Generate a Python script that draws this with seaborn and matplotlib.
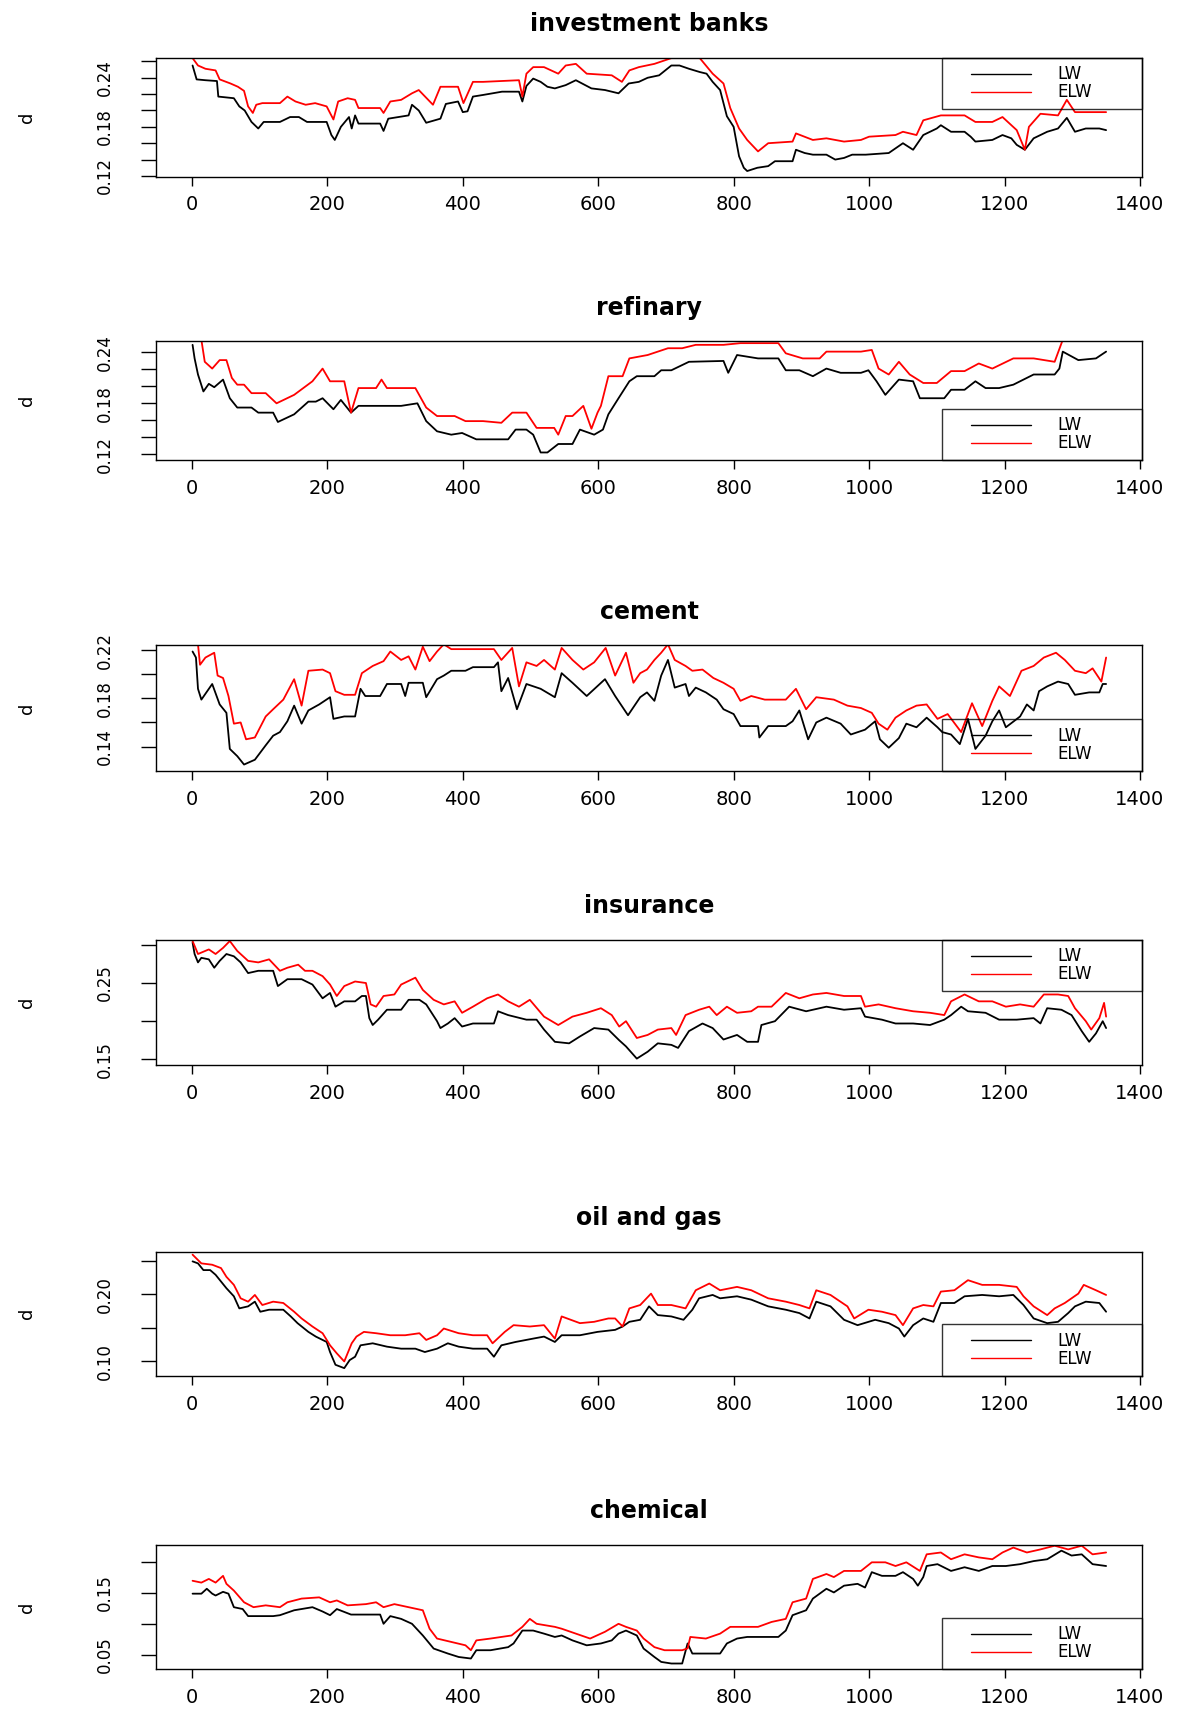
import matplotlib
matplotlib.use("Agg")
import matplotlib.pyplot as plt
import seaborn as sns
import pandas as pd
from matplotlib.lines import Line2D
from matplotlib.legend_handler import HandlerLine2D

# ---------------- data (index t, value d) ----------------
titles = ["investment banks", "refinary", "cement", "insurance", "oil and gas", "chemical"]
series_names = ["LW", "ELW"]
x_ticks = [0, 200, 400, 600, 800, 1000, 1200, 1400]

ib_lw = [(1,0.255),(7,0.238),(20,0.237),(37,0.236),(39,0.217),(62,0.215),(70,0.205),(78,0.200),(88,0.186),(98,0.178),
         (106,0.186),(130,0.186),(145,0.192),(158,0.192),(170,0.186),(199,0.186),(206,0.170),(211,0.164),(220,0.180),(232,0.192),
         (236,0.178),(241,0.194),(246,0.184),(278,0.184),(283,0.175),(290,0.190),(320,0.194),(325,0.207),(335,0.200),(346,0.185),
         (367,0.190),(375,0.208),(393,0.211),(400,0.198),(407,0.199),(415,0.217),(430,0.219),(458,0.223),(483,0.223),(488,0.211),
         (494,0.230),(504,0.239),(515,0.235),(525,0.229),(536,0.227),(552,0.231),(567,0.237),(590,0.227),(610,0.225),(630,0.221),
         (645,0.233),(660,0.235),(673,0.240),(690,0.243),(708,0.255),(720,0.255),(734,0.251),(750,0.247),(760,0.245),(769,0.235),
         (780,0.225),(790,0.193),(800,0.180),(808,0.144),(815,0.130),(820,0.126),(835,0.130),(851,0.132),(861,0.138),(887,0.138),
         (892,0.152),(905,0.148),(917,0.146),(937,0.146),(950,0.140),(963,0.142),(975,0.146),(995,0.146),(1029,0.148),(1050,0.160),
         (1065,0.152),(1080,0.170),(1100,0.178),(1106,0.182),(1121,0.174),(1141,0.174),(1150,0.168),(1157,0.162),(1182,0.164),(1197,0.170),
         (1210,0.166),(1218,0.158),(1230,0.152),(1243,0.166),(1263,0.174),(1279,0.178),(1292,0.191),(1304,0.174),(1320,0.178),(1340,0.178),
         (1350,0.176)]
ib_elw = [(1,0.264),(9,0.255),(20,0.251),(35,0.249),(41,0.238),(57,0.233),(68,0.229),(77,0.224),(83,0.205),(90,0.197),
          (95,0.207),(104,0.209),(130,0.209),(141,0.217),(153,0.211),(168,0.207),(182,0.209),(199,0.205),(209,0.189),(216,0.211),
          (230,0.215),(241,0.213),(246,0.203),(278,0.203),(283,0.197),(293,0.211),(309,0.213),(325,0.221),(335,0.225),(356,0.207),
          (367,0.229),(393,0.229),(401,0.209),(415,0.235),(430,0.235),(483,0.237),(488,0.217),(494,0.245),(504,0.253),(520,0.253),
          (541,0.245),(552,0.255),(567,0.257),(583,0.245),(620,0.243),(635,0.235),(646,0.249),(660,0.253),(683,0.257),(708,0.264),
          (750,0.264),(769,0.245),(785,0.233),(795,0.203),(808,0.178),(820,0.164),(836,0.150),(851,0.160),(887,0.162),(892,0.172),
          (917,0.164),(937,0.166),(963,0.162),(988,0.164),(1000,0.168),(1039,0.170),(1050,0.174),(1070,0.170),(1080,0.188),(1106,0.194),
          (1141,0.194),(1157,0.186),(1182,0.186),(1197,0.192),(1218,0.176),(1230,0.152),(1236,0.180),(1253,0.196),(1279,0.194),(1292,0.213),
          (1304,0.198),(1350,0.198)]

ref_lw = [(1,0.249),(4,0.233),(9,0.214),(17,0.194),(25,0.203),(33,0.199),(46,0.208),(56,0.186),(67,0.175),(88,0.175),
          (98,0.169),(120,0.169),(127,0.158),(151,0.167),(172,0.182),(183,0.182),(193,0.186),(209,0.173),(220,0.184),(235,0.169),
          (246,0.177),(309,0.177),(333,0.180),(346,0.159),(362,0.147),(383,0.143),(399,0.145),(420,0.1375),(467,0.1375),(478,0.149),
          (494,0.149),(504,0.143),(515,0.122),(525,0.122),(541,0.132),(562,0.132),(573,0.149),(594,0.143),(607,0.149),(615,0.167),
          (630,0.186),(646,0.206),(657,0.212),(683,0.212),(693,0.219),(708,0.219),(734,0.229),(785,0.230),(792,0.216),(805,0.237),
          (836,0.233),(866,0.233),(877,0.219),(897,0.219),(917,0.212),(937,0.221),(958,0.216),(988,0.216),(999,0.219),(1011,0.206),
          (1024,0.190),(1044,0.208),(1065,0.206),(1075,0.186),(1111,0.186),(1121,0.196),(1141,0.196),(1157,0.206),(1172,0.198),(1192,0.198),
          (1213,0.202),(1223,0.206),(1243,0.214),(1274,0.214),(1281,0.221),(1286,0.241),(1309,0.231),(1335,0.233),(1350,0.241)]
ref_elw = [(1,0.255),(14,0.255),(19,0.229),(30,0.221),(41,0.231),(51,0.231),(59,0.210),(67,0.202),(77,0.202),(88,0.192),
           (109,0.192),(125,0.180),(151,0.190),(178,0.206),(193,0.221),(204,0.206),(225,0.206),(235,0.169),(246,0.198),(272,0.198),
           (280,0.208),(288,0.198),(330,0.198),(346,0.175),(362,0.165),(388,0.165),(404,0.159),(430,0.159),(457,0.157),(473,0.169),
           (494,0.169),(509,0.151),(535,0.151),(541,0.143),(552,0.165),(562,0.165),(578,0.177),(590,0.150),(599,0.169),(604,0.177),
           (615,0.212),(636,0.212),(646,0.233),(673,0.237),(703,0.245),(724,0.245),(744,0.249),(785,0.249),(810,0.251),(866,0.251),
           (877,0.239),(902,0.233),(927,0.233),(937,0.241),(988,0.241),(1004,0.243),(1014,0.221),(1029,0.214),(1044,0.229),(1060,0.214),
           (1080,0.204),(1100,0.204),(1121,0.218),(1141,0.218),(1162,0.227),(1182,0.221),(1213,0.233),(1243,0.233),(1274,0.229),(1286,0.255),
           (1350,0.255)]

cem_lw = [(1,0.219),(6,0.214),(9,0.188),(14,0.179),(30,0.192),(41,0.175),(51,0.168),(56,0.138),(67,0.132),(77,0.125),
          (93,0.129),(109,0.141),(120,0.149),(130,0.152),(141,0.161),(151,0.174),(162,0.159),(172,0.170),(188,0.175),(204,0.181),
          (209,0.163),(225,0.165),(241,0.165),(249,0.188),(256,0.182),(278,0.182),(288,0.192),(309,0.192),(315,0.182),(320,0.193),
          (341,0.193),(346,0.181),(362,0.196),(372,0.199),(383,0.203),(404,0.203),(415,0.206),(446,0.206),(452,0.210),(457,0.186),
          (467,0.197),(480,0.171),(494,0.192),(515,0.188),(536,0.181),(546,0.201),(562,0.193),(583,0.182),(610,0.196),(625,0.182),
          (644,0.166),(662,0.181),(672,0.185),(683,0.178),(693,0.199),(703,0.212),(713,0.189),(729,0.192),(734,0.182),(744,0.189),
          (759,0.185),(775,0.179),(785,0.171),(800,0.167),(810,0.157),(836,0.157),(838,0.1475),(851,0.157),(877,0.157),(887,0.161),
          (897,0.170),(910,0.146),(922,0.160),(937,0.164),(958,0.159),(973,0.150),(994,0.154),(1009,0.161),(1016,0.146),(1029,0.139),
          (1044,0.147),(1055,0.159),(1070,0.156),(1085,0.164),(1101,0.156),(1108,0.152),(1121,0.150),(1134,0.142),(1146,0.163),(1157,0.138),
          (1172,0.149),(1182,0.161),(1192,0.170),(1202,0.156),(1223,0.165),(1233,0.175),(1243,0.170),(1251,0.186),(1263,0.190),(1279,0.194),
          (1294,0.192),(1304,0.183),(1325,0.185),(1340,0.185),(1345,0.192),(1350,0.192)]
cem_elw = [(1,0.225),(9,0.225),(12,0.208),(20,0.214),(33,0.218),(38,0.199),(46,0.197),(54,0.182),(62,0.159),(72,0.160),
           (80,0.146),(93,0.1475),(109,0.165),(120,0.171),(135,0.179),(151,0.196),(162,0.174),(172,0.203),(193,0.204),(204,0.201),
           (212,0.186),(225,0.183),(241,0.183),(251,0.201),(267,0.207),(283,0.211),(293,0.219),(309,0.212),(320,0.215),(330,0.204),
           (341,0.223),(351,0.211),(362,0.219),(372,0.225),(383,0.221),(446,0.221),(457,0.212),(473,0.222),(483,0.190),(494,0.210),
           (509,0.207),(520,0.212),(536,0.204),(546,0.222),(562,0.212),(578,0.204),(594,0.210),(611,0.222),(625,0.199),(641,0.218),
           (652,0.193),(662,0.201),(672,0.204),(683,0.212),(693,0.218),(703,0.225),(713,0.212),(729,0.207),(739,0.203),(754,0.204),
           (770,0.197),(785,0.193),(800,0.188),(810,0.178),(826,0.182),(846,0.179),(877,0.179),(892,0.188),(907,0.171),(922,0.181),
           (948,0.179),(968,0.174),(988,0.172),(1004,0.168),(1014,0.159),(1027,0.154),(1039,0.164),(1055,0.170),(1070,0.174),(1085,0.175),
           (1101,0.163),(1116,0.167),(1136,0.152),(1152,0.176),(1167,0.157),(1182,0.178),(1192,0.190),(1208,0.182),(1225,0.203),(1243,0.207),
           (1258,0.214),(1276,0.218),(1289,0.212),(1304,0.203),(1320,0.201),(1330,0.205),(1343,0.194),(1350,0.214)]

ins_lw = [(1,0.303),(4,0.288),(9,0.277),(14,0.283),(25,0.281),(33,0.270),(41,0.279),(51,0.288),(62,0.285),(72,0.277),
          (83,0.263),(98,0.266),(120,0.266),(127,0.246),(141,0.255),(162,0.255),(178,0.248),(193,0.230),(204,0.237),(212,0.219),
          (225,0.226),(241,0.226),(251,0.233),(257,0.233),(262,0.204),(267,0.195),(275,0.202),(288,0.215),(309,0.215),(320,0.228),
          (336,0.228),(346,0.222),(362,0.200),(367,0.191),(378,0.197),(388,0.204),(399,0.193),(415,0.197),(446,0.197),(452,0.213),
          (467,0.208),(494,0.202),(509,0.202),(520,0.189),(536,0.173),(557,0.171),(573,0.180),(594,0.191),(615,0.189),(631,0.175),
          (641,0.167),(657,0.151),(673,0.160),(688,0.171),(708,0.169),(718,0.165),(734,0.187),(754,0.197),(769,0.191),(785,0.176),
          (805,0.182),(820,0.173),(836,0.173),(841,0.195),(861,0.200),(882,0.219),(907,0.213),(937,0.219),(963,0.215),(988,0.217),
          (994,0.206),(1019,0.202),(1039,0.197),(1065,0.197),(1090,0.195),(1111,0.202),(1121,0.208),(1136,0.219),(1146,0.213),(1172,0.211),
          (1192,0.202),(1218,0.202),(1243,0.204),(1253,0.197),(1263,0.217),(1284,0.215),(1299,0.208),(1314,0.187),(1325,0.173),(1335,0.184),
          (1345,0.200),(1350,0.191)]
ins_elw = [(1,0.305),(9,0.288),(25,0.294),(35,0.288),(46,0.296),(56,0.305),(67,0.292),(83,0.279),(98,0.277),(114,0.281),
           (130,0.266),(141,0.270),(157,0.274),(167,0.266),(178,0.266),(193,0.259),(204,0.248),(214,0.233),(225,0.246),(241,0.252),
           (257,0.250),(264,0.222),(272,0.219),(283,0.233),(299,0.235),(309,0.248),(330,0.257),(341,0.241),(357,0.228),(372,0.222),
           (388,0.226),(399,0.211),(415,0.219),(436,0.230),(452,0.235),(467,0.226),(483,0.219),(499,0.228),(520,0.206),(541,0.195),
           (562,0.206),(583,0.211),(604,0.217),(620,0.208),(631,0.193),(641,0.200),(657,0.178),(673,0.182),(688,0.189),(708,0.191),
           (715,0.182),(729,0.208),(749,0.215),(764,0.219),(775,0.208),(790,0.219),(805,0.211),(826,0.213),(836,0.219),(856,0.219),
           (877,0.237),(897,0.230),(917,0.235),(937,0.237),(963,0.233),(988,0.233),(994,0.219),(1014,0.222),(1039,0.217),(1065,0.213),
           (1090,0.211),(1111,0.208),(1121,0.226),(1141,0.235),(1162,0.226),(1182,0.226),(1202,0.219),(1223,0.222),(1243,0.219),(1258,0.235),
           (1279,0.235),(1294,0.233),(1304,0.217),(1320,0.200),(1328,0.189),(1340,0.204),(1347,0.224),(1350,0.206)]

oil_lw = [(1,0.249),(9,0.246),(17,0.236),(27,0.236),(35,0.229),(43,0.219),(51,0.209),(62,0.197),(70,0.179),(83,0.182),
          (93,0.189),(101,0.174),(114,0.177),(135,0.177),(146,0.167),(156,0.157),(172,0.144),(183,0.137),(199,0.129),(204,0.114),
          (212,0.095),(225,0.090),(233,0.102),(241,0.107),(249,0.124),(267,0.127),(288,0.122),(309,0.119),(330,0.119),(344,0.114),
          (362,0.119),(378,0.127),(394,0.122),(415,0.119),(436,0.119),(446,0.107),(457,0.124),(478,0.129),(504,0.134),(520,0.137),
          (536,0.129),(546,0.139),(573,0.139),(599,0.144),(625,0.147),(636,0.152),(646,0.159),(662,0.162),(675,0.182),(688,0.169),
          (708,0.167),(726,0.162),(739,0.177),(749,0.194),(769,0.199),(780,0.194),(805,0.197),(826,0.192),(851,0.182),(877,0.177),
          (897,0.172),(912,0.164),(922,0.189),(943,0.182),(963,0.162),(983,0.154),(1009,0.162),(1029,0.157),(1044,0.149),(1052,0.137),
          (1065,0.154),(1080,0.164),(1095,0.159),(1106,0.187),(1126,0.187),(1141,0.197),(1167,0.199),(1192,0.197),(1213,0.199),(1228,0.184),
          (1243,0.164),(1263,0.157),(1279,0.159),(1294,0.172),(1304,0.182),(1320,0.189),(1340,0.187),(1350,0.174)]
oil_elw = [(1,0.259),(14,0.246),(30,0.244),(43,0.239),(51,0.226),(62,0.214),(72,0.194),(83,0.189),(93,0.199),(104,0.184),
           (120,0.189),(135,0.187),(151,0.174),(162,0.164),(178,0.152),(193,0.142),(204,0.124),(214,0.112),(225,0.100),(236,0.127),
           (243,0.137),(254,0.144),(272,0.142),(293,0.139),(315,0.139),(336,0.142),(346,0.132),(362,0.139),(372,0.149),(394,0.142),
           (415,0.139),(436,0.139),(444,0.127),(462,0.144),(475,0.154),(499,0.152),(520,0.154),(536,0.134),(546,0.167),(573,0.157),
           (594,0.159),(615,0.164),(625,0.164),(636,0.152),(646,0.179),(662,0.184),(678,0.201),(688,0.184),(708,0.184),(729,0.179),
           (744,0.206),(764,0.216),(780,0.206),(805,0.211),(826,0.206),(851,0.194),(877,0.189),(897,0.184),(912,0.179),(922,0.206),
           (943,0.199),(968,0.182),(978,0.164),(999,0.177),(1019,0.174),(1039,0.169),(1050,0.154),(1065,0.179),(1080,0.184),(1095,0.182),
           (1106,0.204),(1126,0.206),(1146,0.221),(1167,0.214),(1192,0.214),(1218,0.211),(1228,0.197),(1243,0.182),(1263,0.169),(1274,0.179),
           (1289,0.187),(1309,0.201),(1317,0.214),(1335,0.206),(1350,0.199)]

chem_lw = [(1,0.149),(14,0.149),(22,0.157),(30,0.149),(35,0.146),(46,0.152),(54,0.149),(62,0.127),(75,0.124),(83,0.1125),
           (120,0.1125),(130,0.114),(151,0.122),(178,0.127),(193,0.120),(204,0.114),(214,0.124),(235,0.115),(278,0.115),(283,0.100),
           (293,0.1125),(309,0.108),(325,0.100),(341,0.081),(357,0.0597),(378,0.0516),(394,0.046),(412,0.0435),(420,0.057),(441,0.057),
           (467,0.062),(475,0.068),(488,0.089),(504,0.089),(520,0.084),(536,0.0786),(546,0.081),(562,0.073),(583,0.065),(604,0.068),
           (620,0.073),(630,0.084),(641,0.089),(657,0.081),(667,0.0597),(683,0.046),(693,0.038),(708,0.0354),(724,0.0354),(732,0.068),
           (739,0.0516),(780,0.0516),(790,0.068),(805,0.076),(820,0.0786),(866,0.0786),(877,0.089),(887,0.114),(907,0.122),(917,0.141),
           (937,0.157),(948,0.151),(963,0.162),(983,0.165),(994,0.159),(1004,0.184),(1019,0.178),(1039,0.178),(1050,0.184),(1065,0.173),
           (1072,0.162),(1080,0.176),(1085,0.194),(1101,0.197),(1121,0.186),(1141,0.192),(1162,0.186),(1182,0.194),(1202,0.194),(1223,0.197),
           (1243,0.202),(1263,0.205),(1284,0.219),(1299,0.211),(1314,0.213),(1330,0.197),(1350,0.194)]
chem_elw = [(1,0.170),(14,0.167),(25,0.173),(35,0.167),(46,0.178),(51,0.165),(62,0.154),(77,0.135),(91,0.127),(109,0.130),
            (130,0.127),(141,0.135),(162,0.141),(188,0.143),(204,0.135),(214,0.138),(230,0.130),(257,0.132),(272,0.135),(283,0.127),
            (299,0.132),(320,0.127),(341,0.122),(351,0.092),(362,0.076),(383,0.0705),(404,0.065),(412,0.057),(420,0.073),(441,0.076),
            (457,0.0786),(472,0.081),(488,0.095),(499,0.108),(509,0.100),(536,0.095),(546,0.092),(567,0.084),(588,0.076),(610,0.087),
            (630,0.100),(641,0.095),(657,0.089),(667,0.076),(683,0.062),(698,0.057),(724,0.057),(732,0.060),(736,0.0786),(759,0.076),
            (780,0.084),(795,0.095),(836,0.095),(856,0.103),(877,0.108),(887,0.135),(907,0.141),(917,0.173),(937,0.181),(948,0.176),
            (963,0.186),(988,0.186),(1004,0.200),(1024,0.200),(1039,0.194),(1055,0.200),(1075,0.186),(1085,0.213),(1106,0.216),(1121,0.205),
            (1141,0.213),(1162,0.208),(1182,0.205),(1197,0.216),(1213,0.224),(1233,0.216),(1253,0.221),(1274,0.227),(1294,0.221),(1314,0.227),
            (1330,0.213),(1350,0.216)]

y_ticks = [[0.12, 0.14, 0.16, 0.18, 0.20, 0.22, 0.24, 0.26],
           [0.12, 0.14, 0.16, 0.18, 0.20, 0.22, 0.24],
           [0.14, 0.16, 0.18, 0.20, 0.22],
           [0.15, 0.20, 0.25, 0.30],
           [0.10, 0.15, 0.20, 0.25],
           [0.05, 0.10, 0.15, 0.20]]
y_labelled = [[0.12, 0.18, 0.24], [0.12, 0.18, 0.24], [0.14, 0.18, 0.22],
              [0.15, 0.25], [0.10, 0.20], [0.05, 0.15]]

# ---------------- layout / style ----------------
y_limits = [(0.1192, 0.2644), (0.113, 0.2533), (0.1198, 0.2241),
            (0.1425, 0.3066), (0.0786, 0.2637), (0.0263, 0.2285)]
legend_locs = ["upper right", "lower right", "lower right", "upper right", "lower right", "lower right"]
W, H = 1184, 1710
box_left, box_right = 156, 1142
box_tb = [(57.8, 176.6), (341.2, 460.1), (645.4, 770.8), (939.8, 1065.1), (1251.5, 1375.8), (1544.8, 1669.1)]

sns.set_style("ticks")
plt.rcParams["font.family"] = ["DejaVu Sans"]
for key in ["text.color", "axes.labelcolor", "xtick.color", "ytick.color", "axes.edgecolor"]:
    plt.rcParams[key] = "black"

fig = plt.figure(figsize=(W / 100, H / 100), dpi=100)
all_series = [(ib_lw, ib_elw), (ref_lw, ref_elw), (cem_lw, cem_elw),
              (ins_lw, ins_elw), (oil_lw, oil_elw), (chem_lw, chem_elw)]

leg_fs = 12
for i, (title, (lw, elw)) in enumerate(zip(titles, all_series)):
    top, bot = box_tb[i]
    ax = fig.add_axes([box_left / W, 1 - bot / H, (box_right - box_left) / W, (bot - top) / H])
    df_lw = pd.DataFrame(lw, columns=["t", "d"])
    df_elw = pd.DataFrame(elw, columns=["t", "d"])
    sns.lineplot(data=df_lw, x="t", y="d", color="black", linewidth=1.3, estimator=None,
                 ax=ax, label=series_names[0])
    sns.lineplot(data=df_elw, x="t", y="d", color="#ff0000", linewidth=1.3, estimator=None,
                 ax=ax, label=series_names[1])
    ax.set_xlim(-53, 1403)
    ax.set_ylim(*y_limits[i])
    ax.set_xticks(x_ticks)
    ax.set_xticklabels([str(v) for v in x_ticks])
    ax.set_yticks(y_ticks[i])
    ax.set_yticklabels([f"{v:.2f}" if any(abs(v - s) < 1e-9 for s in y_labelled[i]) else ""
                        for v in y_ticks[i]])
    ax.tick_params(axis="y", length=11, width=1, labelsize=12, labelrotation=90, pad=19,
                   colors="black")
    ax.tick_params(axis="x", length=6.5, width=1, labelsize=14, pad=7, colors="black")
    for lab in ax.get_yticklabels():
        lab.set_va("center")
    for sp in ax.spines.values():
        sp.set_visible(True)
        sp.set_color("black")
        sp.set_linewidth(1.0)
    ax.set_xlabel("")
    ax.set_ylabel("d", fontsize=13, rotation=90, va="center")
    ax.yaxis.set_label_coords(-0.131, 0.5)
    ax.set_title(title, fontsize=17, fontweight="bold", pad=19, color="black")
    leg = ax.legend(loc=legend_locs[i], bbox_to_anchor=(0.7974, 0, 0.2026, 1), mode="expand",
                    borderaxespad=0, fontsize=leg_fs, handlelength=4.85, handletextpad=1.6,
                    labelspacing=0.0, borderpad=0.46, frameon=True, fancybox=False,
                    handler_map={Line2D: HandlerLine2D(xpad=1.26)})
    fr = leg.get_frame()
    fr.set_edgecolor("black")
    fr.set_facecolor("none")
    fr.set_linewidth(1.0)
    for h in leg.get_lines():
        h.set_linewidth(1.0)

fig.savefig("out.png", dpi=100)
